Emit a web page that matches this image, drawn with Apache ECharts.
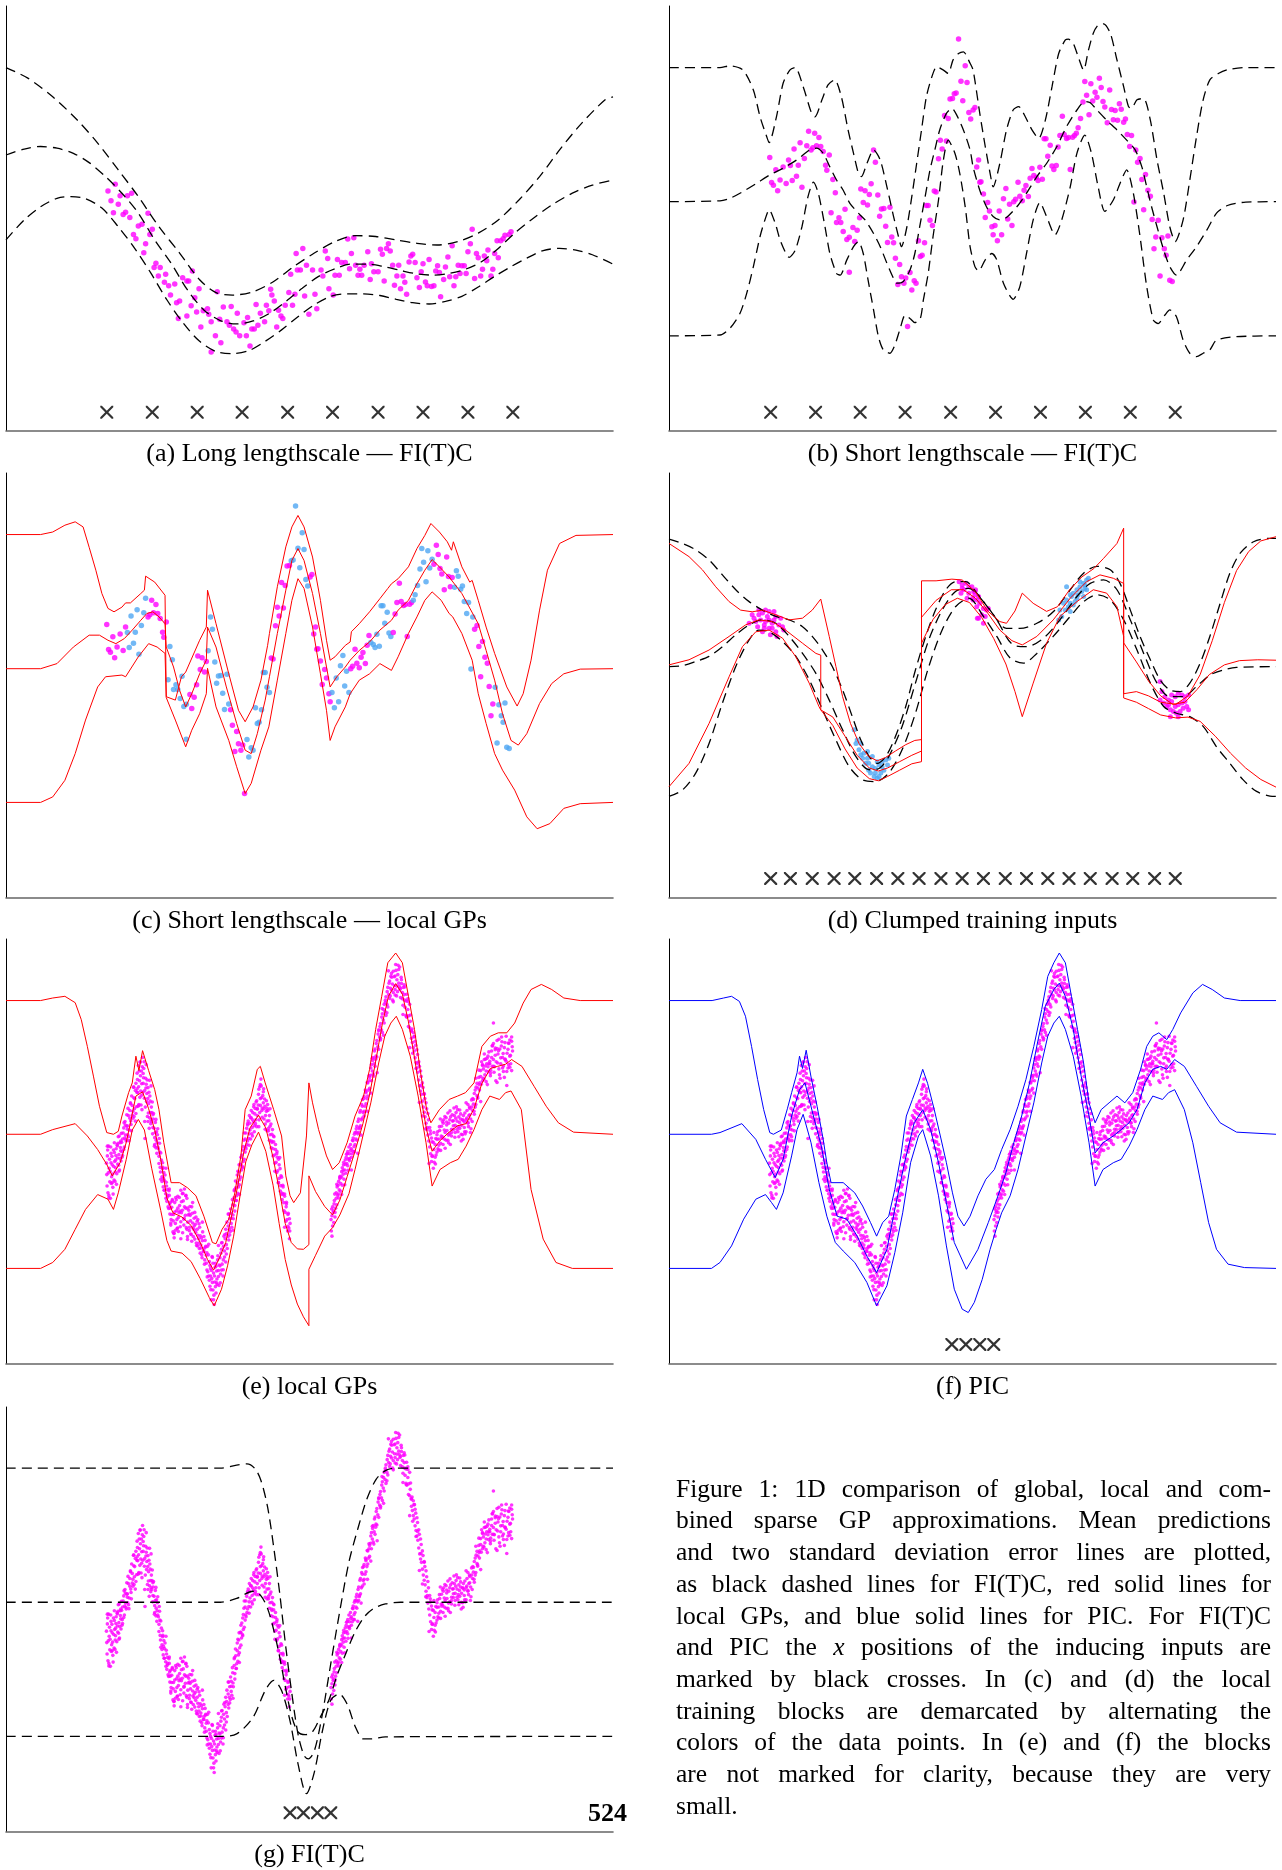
<!DOCTYPE html>
<html>
<head>
<meta charset="utf-8">
<script src="https://cdn.jsdelivr.net/npm/echarts/dist/echarts.min.js"></script>
<style>
  html, body { margin: 0; padding: 0; background: #fff; }
  #chart { width: 1282px; height: 1870px; }
</style>
</head>
<body>
<div id="chart"></div>
<script>
// x: position along the input axis (0-100), y: output value (0-100), same scale for every panel

// (a) long lengthscale, FI(T)C
const aUpper = [[0,85.5],[3.6,83.0],[7.7,78.6],[11.7,73.2],[15.1,67.7],[18.5,61.4],[21.8,55.1],[25.2,48.0],[28.6,41.8],[31.9,35.5],[34.6,32.5],[37.3,31.9],[40.7,32.7],[44.1,35.1],[47.4,38.6],[50.8,41.8],[54.2,44.5],[57.5,45.9],[60.9,45.7],[64.3,44.9],[67.7,44.1],[71.0,43.7],[74.4,44.5],[77.8,46.5],[81.1,49.6],[84.5,54.3],[87.9,59.8],[91.2,66.1],[94.6,72.0],[98.7,77.9],[100,78.6]];
const aMean = [[0,64.9],[3.0,66.3],[5.7,66.9],[8.4,66.5],[11.1,65.3],[13.7,63.1],[16.4,59.8],[19.1,55.9],[21.8,51.2],[24.5,44.9],[27.2,39.4],[29.9,33.1],[32.6,28.4],[35.3,25.9],[38.0,25.1],[40.7,25.8],[43.4,27.6],[46.1,30.4],[48.8,33.5],[51.5,36.3],[54.2,38.1],[56.9,39.2],[59.6,39.2],[62.3,38.6],[65.0,37.7],[67.7,36.9],[70.4,36.6],[73.0,37.0],[75.7,38.0],[78.4,39.8],[81.1,42.9],[83.8,46.5],[86.5,49.6],[89.9,53.1],[93.3,55.9],[96.6,57.8],[100,59.0]];
const aLower = [[0,44.9],[3.0,49.6],[5.7,52.7],[8.4,54.7],[10.7,55.1],[13.1,54.6],[15.8,52.4],[18.5,48.0],[21.2,42.9],[23.9,37.0],[26.5,30.8],[29.2,25.3],[31.9,21.0],[34.6,18.6],[37.3,18.1],[40.0,18.8],[42.7,21.0],[45.4,23.7],[48.1,26.8],[50.8,29.6],[53.5,31.6],[56.2,32.2],[58.9,32.2],[61.6,31.8],[64.3,30.9],[67.0,30.1],[69.7,29.8],[72.4,30.4],[75.1,31.6],[77.8,33.8],[80.5,36.3],[83.2,38.6],[85.8,40.6],[88.5,42.4],[91.2,42.9],[93.9,42.5],[96.6,41.4],[100,39.2]];
const aPoints = [[16.8,56.4],[18.0,58.0],[17.3,54.1],[18.8,55.3],[18.5,53.3],[20.0,55.3],[20.7,55.9],[17.7,51.3],[19.3,50.9],[19.7,51.4],[20.4,50.2],[23.4,51.2],[21.8,48.2],[22.4,48.6],[24.1,47.4],[21.0,46.2],[21.4,45.2],[23.7,46.2],[23.0,44.0],[22.7,41.9],[24.7,39.4],[24.4,38.4],[25.4,38.4],[26.3,36.8],[25.1,36.4],[26.1,34.9],[26.8,34.1],[27.8,34.5],[27.1,31.9],[29.1,36.0],[30.1,35.2],[30.7,37.6],[29.8,35.2],[28.6,30.5],[28.1,30.1],[31.8,33.4],[31.1,31.3],[30.5,29.4],[28.4,26.4],[29.8,27.0],[31.4,27.9],[32.5,28.2],[33.2,28.7],[33.4,27.4],[32.1,24.4],[33.8,25.6],[34.8,32.7],[35.2,26.2],[34.5,22.3],[35.4,20.7],[33.8,18.5],[35.8,29.1],[37.1,29.2],[36.4,25.6],[36.8,24.8],[37.5,23.9],[38.1,27.6],[37.9,23.2],[38.5,22.3],[39.2,25.4],[39.8,26.6],[39.6,22.3],[40.5,23.9],[40.9,23.9],[40.2,19.9],[41.2,29.7],[41.9,27.6],[42.6,25.6],[41.5,24.8],[42.9,29.5],[43.6,33.3],[43.8,31.9],[44.2,30.5],[43.3,28.2],[44.6,24.4],[44.9,28.3],[45.3,27.0],[45.6,26.4],[46.0,29.5],[46.6,32.5],[47.2,29.5],[46.9,36.8],[47.6,32.1],[47.8,41.7],[48.9,42.9],[48.0,37.8],[48.5,37.8],[49.2,31.7],[49.5,38.9],[49.9,27.4],[50.5,37.8],[50.9,32.1],[51.2,28.7],[51.9,37.8],[52.6,42.3],[53.0,40.5],[53.2,33.4],[52.2,36.4],[53.9,31.9],[54.6,40.3],[54.2,36.6],[54.9,36.6],[55.3,39.6],[55.9,39.6],[56.3,45.1],[56.6,38.1],[56.9,41.7],[57.3,45.4],[57.6,38.9],[58.0,36.6],[58.3,38.0],[58.6,36.6],[59.0,38.9],[59.6,42.1],[60.2,39.3],[60.0,35.6],[60.6,37.4],[61.3,37.4],[61.7,42.7],[62.0,41.5],[62.7,42.9],[63.0,44.0],[62.3,35.2],[63.3,42.3],[63.7,38.9],[64.0,34.2],[64.4,36.4],[64.7,38.9],[65.0,33.4],[65.4,36.4],[65.7,34.9],[66.0,32.1],[66.7,41.1],[66.4,39.7],[67.0,41.5],[67.4,39.6],[67.7,36.0],[68.1,33.7],[68.4,37.4],[68.7,39.3],[69.1,35.0],[69.4,34.1],[69.7,40.3],[70.1,33.9],[70.5,34.1],[70.8,37.6],[71.1,38.8],[71.4,37.2],[71.6,31.5],[72.1,35.6],[72.4,38.5],[72.8,40.9],[73.1,36.2],[73.5,43.5],[73.8,34.1],[74.1,36.2],[74.5,38.9],[74.8,37.0],[75.1,38.8],[75.5,38.8],[75.8,37.0],[76.1,42.1],[76.5,44.0],[76.8,47.4],[77.2,35.8],[77.5,41.7],[77.8,40.7],[78.2,36.4],[78.5,38.0],[78.8,41.1],[79.2,40.0],[79.4,42.5],[79.9,36.4],[80.2,38.0],[80.5,41.7],[80.9,44.7],[81.1,40.7],[81.5,44.7],[81.9,45.2],[82.2,46.0],[82.9,46.2],[83.2,46.8]];
const aCrosses = [[16.6,4.3],[24.1,4.3],[31.5,4.3],[38.9,4.3],[46.4,4.3],[53.8,4.3],[61.3,4.3],[68.7,4.3],[76.1,4.3],[83.5,4.3]];

// (b) short lengthscale, FI(T)C ; the same data are reused in (c)
const bUpper = [[0,85.5],[8.4,85.5],[10.05,85.9],[12.2,84.9],[13.9,80.2],[15.0,73.9],[16.1,69.2],[16.5,67.8],[17.7,73.9],[18.8,81.8],[19.9,84.9],[20.8,85.5],[22.1,81.0],[23.5,74.7],[24.05,73.9],[25.2,77.9],[26.2,81.4],[27.3,82.6],[28.4,78.6],[29.5,70.8],[30.4,65.3],[31.2,60.6],[31.7,59.8],[32.6,62.9],[33.7,66.1],[34.8,63.7],[35.9,57.4],[37.0,50.4],[37.8,45.7],[38.3,43.3],[39.2,48.0],[40.0,55.1],[40.8,62.9],[41.6,70.8],[42.4,78.6],[43.3,83.3],[44.1,85.7],[45.2,84.9],[46.0,84.1],[46.8,87.3],[47.7,88.8],[48.5,89.2],[49.6,86.5],[50.1,84.9],[51.2,74.7],[52.1,66.9],[52.9,60.6],[53.4,57.4],[54.5,62.9],[55.6,70.8],[56.7,75.5],[57.6,76.3],[58.7,73.9],[59.8,70.8],[60.9,68.8],[62.0,73.1],[63.1,81.0],[64.2,88.8],[65.3,92.0],[65.8,92.2],[66.6,91.2],[67.4,88.1],[68.3,84.9],[69.1,89.6],[69.9,93.6],[70.7,95.5],[71.6,95.8],[72.7,93.6],[73.8,87.3],[74.9,81.0],[75.7,76.3],[76.2,75.9],[77.1,77.9],[78.2,78.2],[79.3,73.1],[80.4,63.7],[81.5,55.9],[82.5,48.0],[83.4,44.5],[84.7,49.6],[85.8,59.0],[86.9,69.2],[88.0,77.9],[89.1,82.6],[90.5,84.1],[92.0,85.0],[95.0,85.5],[100,85.5]];
const bMean = [[0,53.9],[8.4,54.1],[10.05,54.7],[12.2,56.3],[14.4,58.2],[16.6,60.2],[18.8,61.8],[21.0,63.7],[23.2,66.1],[24.3,66.5],[25.4,65.3],[26.5,62.1],[27.6,59.0],[28.7,56.6],[29.8,53.5],[31.2,51.2],[32.3,49.6],[33.7,46.4],[34.8,43.3],[35.9,39.4],[37.0,35.8],[37.5,34.7],[38.6,35.1],[39.7,37.8],[40.5,41.7],[41.3,48.0],[42.2,55.1],[43.0,61.4],[43.8,66.1],[44.6,70.8],[45.7,74.7],[46.6,75.9],[47.4,74.3],[48.5,70.8],[49.6,66.1],[50.1,62.1],[51.2,56.6],[52.3,52.7],[53.4,50.4],[54.5,49.6],[55.6,50.2],[57.3,52.7],[58.9,55.9],[60.6,59.8],[62.2,62.9],[63.9,66.9],[65.5,71.6],[67.2,75.5],[68.5,77.5],[69.4,77.2],[70.5,75.5],[72.1,73.1],[73.8,70.8],[75.4,68.4],[76.8,66.1],[77.9,62.1],[78.7,57.4],[79.5,52.7],[80.4,48.0],[81.5,42.5],[82.5,38.6],[83.6,36.6],[85.3,40.2],[86.9,43.3],[88.6,47.2],[90.2,51.2],[92.0,53.0],[95.0,53.8],[100,53.9]];
const bLower = [[0,22.3],[8.4,22.5],[10.05,24.1],[11.7,27.6],[12.8,32.3],[13.9,38.6],[15.0,45.7],[15.8,49.6],[16.5,52.0],[17.5,48.8],[18.3,44.9],[19.4,41.3],[19.8,40.8],[20.8,42.5],[21.9,48.0],[22.9,55.1],[23.8,58.5],[24.6,55.9],[25.7,48.0],[26.5,41.7],[27.6,37.0],[28.2,36.6],[29.3,40.2],[30.4,43.3],[31.2,44.5],[32.0,41.7],[32.8,35.4],[33.7,28.4],[34.5,22.1],[35.3,19.0],[36.4,18.2],[37.2,20.1],[38.1,24.1],[38.9,27.2],[39.7,26.4],[40.5,25.4],[41.4,26.4],[41.9,30.7],[42.7,37.0],[43.5,45.7],[44.4,54.3],[45.2,63.7],[46.0,68.4],[47.1,65.3],[47.9,60.6],[48.8,52.7],[49.6,43.3],[50.4,38.6],[51.0,37.6],[52.1,40.2],[53.2,41.7],[54.0,40.2],[55.1,34.7],[56.7,30.9],[57.8,33.9],[58.9,41.7],[60.0,49.6],[61.1,53.7],[62.2,50.4],[63.6,46.1],[64.7,49.6],[66.1,57.4],[67.2,65.3],[68.5,69.6],[69.6,65.3],[70.7,57.4],[71.8,51.6],[73.2,54.3],[74.3,58.2],[75.4,61.4],[76.5,55.9],[77.6,45.7],[78.7,33.9],[79.8,26.0],[80.6,25.2],[81.7,27.2],[82.5,28.4],[83.6,26.8],[84.7,21.3],[85.8,18.2],[86.9,17.4],[88.0,18.2],[89.1,19.0],[90.2,21.3],[93.5,22.1],[100,22.3]];
const bcPoints = [[16.6,64.3],[17.6,61.4],[16.9,58.4],[17.2,57.8],[17.9,56.5],[18.3,59.0],[18.8,62.1],[19.3,58.2],[19.7,63.7],[20.0,62.4],[20.3,58.9],[20.6,66.3],[21.0,59.9],[21.3,62.5],[21.6,67.8],[21.9,57.3],[22.3,64.1],[22.7,67.1],[23.0,70.5],[23.4,66.1],[24.0,70.0],[23.7,66.6],[24.3,67.1],[24.7,69.0],[25.0,66.9],[25.4,65.7],[25.8,62.5],[26.0,61.3],[26.4,64.9],[27.0,59.1],[27.4,56.0],[26.7,51.3],[27.6,49.0],[28.0,50.1],[28.3,49.0],[28.7,46.9],[29.0,52.1],[29.3,45.0],[29.7,45.5],[30.3,47.8],[30.6,44.5],[31.0,47.2],[29.7,37.3],[31.4,50.1],[31.6,56.9],[32.0,53.7],[32.3,56.5],[32.7,53.1],[33.0,55.6],[33.3,58.1],[33.7,66.1],[34.0,63.2],[34.4,55.5],[34.7,50.5],[35.0,52.2],[35.4,52.3],[35.7,48.1],[36.0,44.3],[36.4,52.6],[36.7,45.6],[37.0,44.2],[37.3,40.6],[37.7,34.4],[38.0,39.1],[38.3,36.2],[38.7,34.7],[39.0,35.9],[39.3,24.5],[39.7,37.2],[40.0,33.1],[40.4,35.3],[40.7,34.7],[41.1,44.7],[41.4,41.0],[41.7,41.3],[42.1,44.2],[42.4,53.0],[42.7,53.0],[43.0,49.5],[43.4,48.3],[43.7,56.4],[44.0,56.2],[44.4,64.0],[44.7,68.4],[45.0,66.3],[45.4,74.2],[45.7,68.2],[46.0,73.5],[46.3,78.1],[46.7,78.2],[47.0,79.3],[47.3,79.5],[47.7,92.2],[48.1,82.3],[48.4,77.7],[48.8,85.9],[49.1,82.0],[49.4,74.9],[49.7,73.4],[50.1,75.5],[50.4,76.1],[50.7,62.1],[51.0,63.7],[51.2,58.5],[51.4,58.6],[51.8,55.7],[52.5,53.7],[52.1,50.2],[52.8,51.7],[53.2,48.0],[53.7,48.3],[53.4,46.1],[54.1,44.7],[54.8,46.1],[54.4,51.7],[55.1,54.6],[55.5,57.0],[55.8,49.8],[56.1,53.3],[56.5,48.3],[56.8,53.9],[57.1,54.5],[57.5,58.5],[57.8,55.2],[58.2,54.1],[58.5,56.6],[58.8,57.7],[59.2,55.1],[59.5,59.4],[59.8,61.7],[60.1,60.1],[60.5,59.6],[60.8,58.9],[61.1,62.0],[61.5,59.2],[61.8,68.7],[62.1,68.7],[62.4,64.6],[62.8,67.2],[63.1,62.3],[63.4,61.5],[63.8,62.4],[64.1,66.8],[64.4,69.5],[64.8,74.0],[65.1,69.7],[65.5,68.8],[65.8,69.0],[66.1,61.5],[66.5,69.1],[66.8,69.5],[67.1,70.0],[67.4,71.3],[67.8,73.5],[68.2,77.4],[68.5,82.2],[68.8,79.0],[69.2,74.4],[69.5,81.7],[69.8,77.6],[70.2,79.7],[70.5,78.5],[70.9,83.0],[71.2,80.8],[71.5,77.5],[71.8,76.2],[72.2,72.5],[72.6,80.2],[72.9,75.6],[73.2,73.2],[73.5,75.4],[73.9,73.1],[74.2,77.0],[74.5,75.7],[74.9,72.6],[75.2,73.4],[75.5,69.7],[75.9,66.9],[76.2,69.5],[76.6,53.8],[76.9,66.1],[77.2,63.2],[77.6,64.1],[77.9,59.1],[78.2,52.0],[78.5,60.3],[78.9,56.6],[79.3,55.2],[79.6,49.7],[79.9,42.8],[80.2,45.6],[80.6,49.5],[80.9,36.4],[81.2,45.4],[81.6,42.8],[81.9,41.3],[82.2,45.8],[82.5,35.4],[82.9,35.1]];
const bCrosses = [[16.75,4.3],[24.15,4.3],[31.5,4.3],[38.9,4.3],[46.4,4.3],[53.8,4.3],[61.2,4.3],[68.6,4.3],[76.0,4.3],[83.4,4.3]];

// (c) short lengthscale, local GPs
const cBlockEdges = [19.85, 23.2, 26.6, 30.0, 33.0, 36.7, 39.65, 43.45, 46.9, 50.05, 53.4, 56.75, 60.0, 63.6, 66.85, 70.25, 73.65, 77.05, 80.35];
const cUpper = [[0,85.5],[5.7,85.5],[7.7,86.1],[9.7,87.7],[11.4,88.5],[12.7,87.3],[13.7,82.5],[14.8,77.1],[15.8,71.6],[16.8,68.1],[17.8,67.3],[19.1,68.4],[19.7,69.4],[20.5,69.4],[22.2,71.6],[22.8,72.4],[23.0,75.7],[24.5,74.3],[26.2,71.2],[26.4,47.3],[27.9,46.5],[28.9,52.0],[29.6,53.1],[31.9,60.6],[33.0,63.7],[33.2,72.4],[34.6,64.5],[36.7,52.7],[38.3,44.1],[39.4,41.4],[40.7,44.9],[42.0,51.2],[43.1,59.4],[43.4,62.2],[44.7,73.2],[46.1,82.6],[47.1,87.3],[48.1,90.0],[49.1,87.3],[50.5,80.2],[51.8,70.0],[52.8,60.6],[53.4,55.9],[54.2,56.7],[55.9,59.4],[56.7,60.2],[56.9,62.6],[58.2,64.5],[59.9,67.3],[61.6,70.4],[62.9,72.8],[63.5,73.9],[64.6,75.1],[66.3,77.9],[67.7,82.2],[69.0,85.3],[70.0,88.1],[71.4,86.1],[72.7,83.8],[73.4,81.8],[73.7,83.8],[75.1,77.9],[76.4,74.3],[76.8,74.7],[77.8,70.0],[79.1,63.7],[80.5,57.5],[82.5,49.6],[84.2,45.1],[85.2,48.0],[86.5,55.9],[87.9,67.7],[89.2,77.1],[91.2,83.4],[93.9,85.3],[100,85.5]];
const cMean = [[0,53.9],[5.7,53.9],[8.4,55.1],[11.1,59.0],[13.7,61.8],[15.4,61.8],[16.8,60.6],[18.1,59.8],[19.5,61.0],[20.8,63.0],[22.2,65.3],[23.2,66.9],[24.2,67.3],[25.2,66.1],[26.2,64.5],[26.4,59.0],[27.6,54.3],[28.6,48.8],[29.6,44.9],[30.6,48.0],[31.9,52.7],[33.0,55.9],[33.2,63.7],[34.6,59.0],[36.3,49.6],[38.0,41.0],[39.4,34.7],[40.4,33.9],[41.4,38.6],[42.7,46.5],[43.4,52.0],[44.7,62.2],[46.1,72.4],[47.1,79.4],[48.1,82.2],[49.1,79.4],[50.5,71.6],[51.8,62.2],[52.8,54.3],[53.4,49.6],[54.5,52.0],[55.9,54.3],[56.7,55.9],[58.2,58.2],[59.9,60.2],[61.6,63.0],[63.5,65.3],[64.6,67.7],[66.3,70.0],[67.7,73.9],[69.0,77.1],[70.2,79.6],[71.4,77.9],[73.0,75.5],[75.1,71.6],[77.8,64.5],[79.1,58.2],[80.5,51.2],[81.8,43.3],[83.2,37.0],[84.4,35.9],[85.8,38.6],[87.9,45.7],[89.9,50.4],[91.9,52.7],[94.6,53.8],[100,53.9]];
const cLower = [[0,22.4],[5.7,22.4],[7.7,23.7],[9.7,27.6],[11.4,33.9],[13.1,41.8],[15.1,49.6],[16.4,52.0],[19.1,52.4],[19.7,52.0],[21.8,56.7],[23.5,59.8],[24.9,59.0],[26.2,57.5],[26.4,47.1],[27.9,41.8],[29.6,35.5],[30.6,39.4],[31.9,43.3],[33.0,48.0],[33.2,54.0],[34.6,44.9],[36.7,37.0],[38.0,30.8],[39.4,24.5],[40.4,26.9],[42.0,34.7],[43.3,40.2],[44.7,51.2],[46.1,62.2],[47.1,70.0],[48.1,75.1],[49.1,72.8],[50.5,63.7],[51.8,52.7],[52.8,44.1],[53.4,37.0],[54.2,40.2],[55.9,44.9],[56.7,48.0],[58.2,51.2],[59.9,52.7],[61.6,55.1],[63.5,53.5],[64.6,56.7],[66.3,62.2],[67.7,66.1],[69.0,70.0],[70.2,72.0],[71.7,70.0],[73.0,66.9],[73.6,66.1],[75.1,62.2],[76.8,55.9],[77.8,48.0],[79.1,41.0],[80.5,33.9],[81.8,30.0],[83.8,25.3],[85.8,19.0],[87.5,16.2],[89.6,17.4],[91.9,21.0],[94.6,22.1],[100,22.4]];

// (d) clumped training inputs
const dDashUpper = [[0,84.4],[2.2,83.4],[4.4,81.9],[6.6,79.5],[8.8,76.0],[11.0,72.5],[13.2,69.7],[15.4,67.7],[17.6,66.2],[19.8,65.4],[22.0,63.8],[23.6,61.5],[25.3,58.3],[26.9,54.4],[28.6,48.9],[30.2,42.6],[31.6,37.1],[33.0,33.2],[34.3,31.6],[35.7,33.2],[37.3,37.9],[39.0,45.0],[40.6,53.6],[42.3,61.5],[43.9,67.7],[45.6,72.5],[47.2,74.4],[48.9,74.4],[50.7,71.7],[52.9,67.7],[55.6,63.4],[57.8,63.4],[60.6,64.6],[63.3,67.3],[66.1,72.5],[68.3,76.4],[70.5,78.0],[72.7,77.2],[74.3,74.0],[76.0,67.7],[77.6,61.5],[79.3,56.0],[80.9,51.3],[82.5,48.9],[84.2,48.5],[85.8,50.5],[87.5,55.2],[89.1,61.5],[90.8,69.3],[92.4,76.4],[94.1,81.1],[96.3,83.8],[99.0,84.6],[100,84.6]];
const dDashMean = [[0,54.4],[2.2,54.6],[4.4,55.6],[6.6,56.8],[8.8,59.1],[11.0,61.9],[13.2,64.2],[15.4,65.4],[17.6,64.6],[19.8,61.5],[22.0,57.5],[24.2,52.8],[26.4,46.5],[28.6,39.5],[30.8,33.2],[33.0,30.1],[34.6,30.4],[36.2,33.2],[38.4,40.3],[40.6,50.5],[42.8,60.7],[45.0,67.7],[47.2,72.1],[49.4,72.8],[51.8,69.7],[54.0,65.4],[56.7,59.5],[58.9,59.1],[61.7,61.1],[64.4,65.4],[67.2,70.9],[69.4,74.0],[71.6,74.8],[73.8,72.5],[76.0,65.4],[78.2,57.5],[80.4,50.5],[82.5,47.3],[84.7,47.3],[86.9,49.7],[89.1,52.4],[91.3,53.6],[93.5,54.2],[100,54.4]];
const dDashLower = [[0,23.8],[2.2,25.3],[4.4,29.3],[6.6,36.3],[8.8,45.8],[11.0,54.4],[13.2,60.7],[14.8,63.0],[16.5,62.6],[18.7,60.3],[20.9,56.8],[23.1,51.3],[25.3,44.2],[27.5,37.1],[29.7,30.8],[31.9,27.7],[34.0,27.3],[36.2,29.3],[38.4,34.8],[40.6,43.4],[42.8,54.4],[45.0,63.0],[47.2,68.5],[49.4,70.5],[51.8,66.2],[54.0,61.5],[56.2,56.4],[58.4,55.2],[60.6,57.5],[63.3,61.5],[66.1,66.2],[68.3,69.7],[70.5,71.3],[72.7,70.1],[74.9,65.4],[77.1,58.3],[79.3,50.5],[81.5,45.0],[83.6,43.4],[85.8,42.6],[88.0,40.3],[90.2,35.5],[92.4,31.6],[94.6,27.7],[96.8,25.0],[99.0,23.9],[100,23.8]];
const dRedUpper = [[0,83.4],[3.3,80.3],[5.5,77.2],[7.7,73.2],[9.9,69.7],[11.8,67.7],[13.7,67.3],[15.4,67.7],[17.6,66.6],[19.8,65.4],[22.0,65.8],[23.6,67.7],[25.0,70.3],[26.4,61.5],[27.5,54.4],[28.6,47.3],[29.9,41.0],[31.3,36.3],[32.9,33.2],[34.3,32.2],[35.7,33.0],[37.3,34.5],[39.0,36.0],[40.5,37.0],[41.6,37.2],[41.6,74.6],[44.0,74.6],[46.6,75.0],[48.3,74.8],[50.5,72.0],[52.5,67.5],[54.5,65.0],[55.6,64.6],[57.0,67.5],[58.2,71.7],[60.0,69.3],[62.2,67.4],[64.0,68.5],[66.0,72.5],[68.0,75.5],[70.0,77.5],[71.6,79.9],[73.8,83.4],[74.9,87.0],[74.9,48.0],[77.0,48.5],[79.0,47.5],[81.0,46.0],[83.5,45.5],[85.5,47.5],[87.5,52.5],[89.5,60.5],[91.5,69.5],[93.5,77.0],[95.5,81.5],[97.5,84.0],[100,85.0]];
const dRedMean = [[0,54.8],[3.3,56.0],[6.6,58.3],[9.9,61.5],[12.6,64.2],[14.8,65.4],[17.0,65.0],[19.2,63.0],[22.0,59.9],[24.2,57.5],[25.0,57.1],[25.0,44.2],[27.0,42.5],[29.0,38.0],[31.0,33.5],[33.0,30.5],[34.5,29.8],[36.0,30.5],[38.0,32.0],[40.0,33.5],[41.6,34.5],[41.6,66.0],[44.0,70.0],[46.5,72.5],[48.5,72.5],[50.5,70.5],[52.5,67.0],[54.5,63.0],[56.5,60.5],[58.2,59.5],[58.2,59.1],[60.6,61.5],[63.3,65.4],[66.1,70.5],[68.8,74.4],[71.0,76.0],[73.2,75.2],[74.9,74.0],[74.9,60.0],[77.0,55.5],[79.0,51.0],[81.0,47.5],[83.0,45.5],[85.0,46.0],[87.0,49.0],[89.0,52.5],[91.5,54.8],[94.0,55.8],[97.0,56.0],[100,55.9]];
const dRedLower = [[0,26.1],[3.3,31.6],[6.6,41.0],[9.9,52.0],[12.1,59.1],[14.3,62.6],[16.5,63.0],[18.7,61.1],[20.9,56.7],[23.1,50.5],[24.7,45.0],[25.0,44.2],[27.0,40.5],[29.0,35.0],[31.0,30.5],[33.0,28.0],[34.5,27.5],[36.0,28.5],[38.0,30.0],[40.0,31.5],[41.6,32.0],[41.6,59.9],[43.5,65.5],[45.5,69.0],[47.5,70.5],[49.5,69.5],[51.5,66.0],[53.5,61.0],[55.5,55.0],[57.0,48.5],[58.2,42.6],[60.0,50.5],[62.2,59.9],[64.4,66.2],[67.2,69.7],[69.9,72.5],[72.1,71.7],[73.8,68.5],[74.9,61.5],[74.9,47.0],[77.0,46.0],[79.0,44.5],[81.0,43.0],[83.5,42.3],[85.5,42.5],[87.5,41.5],[90.0,38.0],[92.5,34.0],[95.0,30.5],[97.5,27.8],[100,26.0]];
const dPointsMagenta = [[15.9,67.7],[16.5,67.4],[14.8,66.6],[14.0,65.8],[15.1,65.4],[17.6,66.2],[18.4,65.8],[17.0,64.6],[15.7,64.2],[14.6,63.8],[13.2,64.6],[16.5,63.4],[18.7,63.8],[17.6,62.6],[15.4,62.6],[16.7,61.9],[17.8,61.5],[14.3,65.0],[16.2,66.2],[17.3,65.4],[15.4,67.0],[18.1,64.2],[18.9,63.0],[13.7,66.6],[14.8,67.7],[15.9,65.0],[17.0,63.4],[15.7,63.4],[16.5,65.4],[17.3,67.4],
  [47.8,74.4],[48.3,73.6],[48.9,74.0],[49.4,73.2],[48.6,72.5],[49.4,71.7],[50.2,72.1],[48.1,71.7],[50.0,70.5],[50.8,70.1],[50.8,65.8],[49.1,70.5],[48.3,72.8],[50.5,72.5],[49.9,73.2],[50.4,72.1],[51.0,70.9],[50.1,70.1],[51.2,69.3],[51.8,68.1],[50.7,68.5],[52.3,67.7],[51.5,66.6],[52.1,66.2],[52.6,68.1],[51.0,65.8],[51.8,64.6],[50.4,71.3],
  [80.9,50.9],[81.2,48.5],[81.7,47.3],[82.3,46.5],[82.8,47.7],[83.4,47.3],[83.9,48.1],[84.5,47.7],[85.0,47.3],[85.6,47.7],[81.5,45.8],[82.0,45.0],[82.6,44.2],[83.1,43.8],[83.6,43.4],[84.2,43.8],[84.7,44.6],[85.3,45.0],[82.8,46.2],[83.9,45.4],[82.3,45.4],[83.4,45.0],[84.5,45.8],[82.6,42.6],[83.9,42.6],[85.6,44.2],[80.9,46.5],[85.0,46.2]];
const dPointsBlue = [[30.5,39.5],[31.0,37.1],[31.6,36.3],[31.3,34.8],[32.1,34.0],[32.7,32.8],[31.9,32.8],[32.9,31.6],[33.5,30.8],[34.0,30.4],[34.6,31.2],[35.1,32.0],[35.7,32.4],[33.2,29.3],[33.8,28.5],[34.3,28.1],[34.9,29.3],[35.4,30.0],[32.4,31.6],[31.6,33.6],[30.8,36.3],[33.5,33.2],[34.3,32.0],[35.1,30.8],[36.0,31.2],[32.9,30.0],[34.0,29.3],[34.6,28.5],[36.2,32.8],[32.7,34.4],
  [64.4,67.7],[65.0,69.3],[65.5,70.1],[65.8,68.5],[66.3,70.9],[66.6,71.7],[67.2,72.5],[67.7,73.2],[68.3,74.0],[68.8,74.8],[69.1,75.2],[66.1,69.3],[66.9,69.7],[67.4,71.3],[68.0,72.1],[68.5,72.8],[65.3,67.7],[64.7,66.2],[66.1,67.4],[67.2,70.5],[68.3,70.9],[67.7,74.4],[65.5,73.2],[66.6,68.9],[64.2,65.4],[68.5,73.6],[68.8,72.5],[66.1,71.3]];
const dCrosses = [[16.75,4.5],[20.0,4.5],[23.6,4.5],[27.2,4.5],[30.6,4.5],[34.2,4.5],[37.7,4.5],[41.2,4.5],[44.8,4.5],[48.3,4.5],[51.8,4.5],[55.4,4.5],[58.9,4.5],[62.4,4.5],[65.9,4.5],[69.4,4.5],[73.0,4.5],[76.4,4.5],[80.0,4.5],[83.4,4.5]];

// (e), (f), (g) share one large data set (read in three passes)
const efgPointsA = [[16.6,44.5],[16.7,48.9],[16.8,40.2],[16.9,51.2],[17.0,46.0],[17.1,42.8],[17.2,38.9],[17.3,49.5],[17.4,44.0],[17.5,46.8],[17.6,41.5],[17.7,50.3],[17.8,43.2],[17.9,47.6],[18.0,45.1],[18.1,49.0],[18.2,42.2],[18.3,51.5],[18.4,47.0],[18.5,53.4],[18.6,49.2],[18.7,45.6],[18.8,52.0],[18.9,50.1],[19.0,54.2],
  [19.1,48.6],[19.2,52.9],[19.4,55.5],[19.5,51.0],[19.6,57.0],[19.7,53.8],[19.9,58.6],[20.0,55.2],[20.1,60.1],[20.2,53.4],[20.4,57.8],[20.5,61.2],[20.6,56.3],[20.7,63.0],[20.9,59.4],[21.0,65.1],[21.1,58.2],[21.2,62.4],[21.4,66.0],[21.5,60.5],
  [21.6,68.4],[21.7,63.8],[21.8,70.2],[21.9,61.0],[22.0,66.6],[22.1,71.0],[22.2,64.2],[22.3,68.9],[22.4,59.8],[22.5,72.1],[22.6,66.0],[22.7,69.5],[22.8,62.5],[22.9,53.0],[23.0,67.2],[23.1,70.4],[23.2,63.6],[23.3,58.2],[23.4,65.0],[23.5,61.2],[23.6,55.4],[23.7,63.0],[23.8,59.1],[23.9,65.4],[24.0,57.0],
  [24.1,61.6],[24.2,55.6],[24.3,58.9],[24.5,53.2],[24.6,56.8],[24.7,50.8],[24.8,54.6],[24.9,52.0],[25.0,55.3],[25.2,48.8],[25.3,51.9],[25.4,46.2],[25.5,49.6],[25.7,44.0],[25.8,47.3],[25.9,41.6],[26.0,45.0],[26.1,43.1],[26.3,40.0],[26.4,42.7],[26.5,38.2],[26.6,41.0],[26.8,36.5],[26.9,39.6],[27.0,35.2],
  [27.1,38.0],[27.2,33.9],[27.3,36.8],[27.5,31.0],[27.6,35.1],[27.7,29.6],[27.8,37.9],[27.9,33.0],[28.1,36.0],[28.2,31.8],[28.3,39.4],[28.4,34.4],[28.6,37.2],[28.7,32.2],[28.8,40.8],[28.9,35.5],[29.1,30.8],[29.2,38.3],[29.3,34.0],[29.4,41.1],[29.6,36.6],[29.7,32.0],[29.8,38.9],[29.9,29.9],[30.0,35.0],
  [30.2,31.3],[30.3,37.0],[30.4,33.6],[30.6,28.8],[30.7,35.4],[30.8,31.9],[31.0,34.2],[31.1,29.3],[31.2,32.8],[31.4,27.8],[31.5,33.5],[31.6,30.2],[31.8,28.4],[31.9,32.1],[32.0,26.0],[32.2,29.6],[32.3,24.9],[32.4,31.0],[32.6,27.0],[32.7,23.4],[32.8,29.0],[33.0,25.5],[33.1,22.0],[33.2,27.6],[33.4,20.6],
  [33.5,24.0],[33.6,18.2],[33.7,22.4],[33.8,15.0],[33.9,20.0],[34.0,25.0],[34.1,17.3],[34.2,21.3],[34.3,13.9],[34.4,19.2],[34.5,23.6],[34.6,16.6],[34.7,21.8],[34.8,18.6],[34.9,25.4],[35.0,20.5],[35.1,23.2],[35.3,19.0],[35.4,26.0],[35.5,22.0],[35.6,28.5],[35.8,24.4],[35.9,30.0],[36.0,26.5],[36.2,31.6],
  [36.3,28.0],[36.4,33.3],[36.6,29.9],[36.7,35.2],[36.8,31.6],[37.0,36.4],[37.1,33.0],[37.3,38.6],[37.4,35.0],[37.6,40.7],[37.7,37.2],[37.8,43.0],[38.0,39.5],[38.1,44.4],[38.3,41.6],[38.4,46.8],[38.5,43.3],[38.7,48.6],[38.8,45.6],[39.0,50.3],[39.1,47.6],[39.2,52.6],[39.4,49.8],[39.5,54.3],[39.7,51.6],
  [39.8,56.2],[40.0,53.0],[40.1,58.4],[40.2,55.0],[40.4,59.6],[40.5,54.1],[40.6,57.4],[40.8,60.5],[40.9,56.0],[41.0,58.8],[41.2,61.6],[41.3,55.8],[41.4,59.9],[41.6,63.4],[41.7,57.4],[41.8,65.2],[41.9,60.8],[42.0,67.0],[42.1,62.6],[42.2,58.0],[42.4,64.0],[42.5,60.0],
  [42.6,62.3],[42.7,56.4],[42.9,59.4],[43.0,54.8],[43.1,61.0],[43.3,57.2],[43.4,52.6],[43.5,55.9],[43.7,50.8],[43.8,54.0],[44.0,48.9],[44.1,52.2],[44.3,47.2],[44.4,50.4],[44.6,45.0],[44.7,48.6],[44.9,42.6],[45.0,46.8],[45.2,40.6],[45.3,44.2],[45.5,38.6],[45.6,42.0],[45.8,36.0],[45.9,39.4],[46.1,33.5],[46.2,37.6],[46.4,31.2],[46.5,35.4],[46.7,29.4],[46.8,33.0],
  [53.6,31.2],[53.7,34.8],[53.8,36.9],[54.0,33.2],[54.1,38.4],[54.2,35.6],[54.4,40.2],[54.5,37.4],[54.7,42.0],[54.8,39.0],[55.0,43.6],[55.1,40.6],[55.3,45.2],[55.4,42.0],[55.6,46.8],[55.7,43.4],[55.9,48.0],[56.0,44.8],[56.2,49.4],[56.3,46.6],[56.5,51.0],[56.6,47.8],[56.8,50.2],[56.9,48.6],[57.1,52.6],
  [57.2,50.0],[57.4,54.0],[57.5,51.6],[57.7,55.3],[57.8,52.6],[58.0,57.0],[58.1,54.4],[58.3,59.2],[58.4,56.0],[58.6,61.0],[58.7,57.8],[58.9,62.4],[59.0,59.4],[59.2,64.4],[59.3,61.2],[59.5,66.2],[59.6,63.0],[59.8,67.8],[59.9,64.8],[60.1,69.6],
  [60.2,66.6],[60.4,71.4],[60.5,68.2],[60.7,73.6],[60.8,70.0],[61.0,75.4],[61.1,72.2],[61.3,77.6],[61.4,74.0],[61.6,79.4],[61.7,76.2],[61.9,81.6],[62.0,78.0],[62.2,83.4],[62.3,80.2],[62.5,85.6],[62.6,82.0],[62.8,87.6],[62.9,84.0],[63.1,89.6],
  [63.2,86.0],[63.4,91.2],[63.5,88.0],[63.7,85.6],[63.8,92.4],[64.0,89.0],[64.1,86.8],[64.2,94.0],[64.4,90.4],[64.5,87.6],[64.7,92.8],[64.8,88.8],[65.0,86.2],[65.1,91.0],[65.3,87.4],[65.4,84.4],[65.6,89.2],[65.7,85.6],[65.9,82.0],[66.0,87.0],[66.2,83.4],[66.3,79.4],[66.5,84.6],
  [66.6,80.6],[66.8,76.6],[66.9,78.8],[67.1,74.4],[67.2,77.0],[67.4,72.0],[67.5,75.0],[67.7,69.6],[67.8,72.8],[68.0,66.8],[68.1,70.0],[68.3,64.2],[68.4,67.6],[68.6,61.8],[68.7,65.0],[68.9,59.2],[69.0,62.4],[69.2,56.6],[69.3,60.0],[69.5,53.8],[69.6,57.4],[69.8,51.0],[69.9,54.8],[70.1,47.6],[70.2,52.2],
  [70.4,46.0],[70.5,50.4],[70.7,48.6],[70.8,53.0],[71.0,49.8],[71.1,54.6],[71.3,51.4],[71.4,55.8],[71.6,50.2],[71.7,53.6],[71.9,57.0],[72.0,51.6],[72.2,55.0],[72.3,58.2],[72.5,52.6],[72.6,56.2],[72.8,59.0],[72.9,53.8],[73.1,57.4],[73.2,51.6],[73.4,55.2],[73.5,58.6],[73.7,56.0],[73.8,60.2],[74.0,54.4],
  [74.1,57.8],[74.3,55.2],[74.4,59.8],[74.6,53.4],[74.7,56.8],[74.9,58.8],[75.0,54.0],[75.2,57.4],[75.3,52.8],[75.5,55.6],[75.6,59.0],[75.8,54.6],[75.9,57.8],[76.1,61.0],[76.2,55.8],[76.4,58.6],[76.5,54.4],[76.7,60.4],[76.8,57.0],[77.0,62.2],[77.1,59.4],[77.3,64.4],[77.4,61.0],[77.6,66.0],[77.7,62.8],
  [77.9,67.4],[78.0,64.4],[78.2,69.0],[78.3,65.8],[78.5,70.4],[78.6,67.2],[78.8,71.6],[78.9,68.0],[79.1,66.4],[79.2,70.6],[79.4,72.4],[79.5,68.8],[79.7,71.2],[79.8,67.8],[80.0,73.6],[80.1,70.0],[80.3,75.4],[80.4,68.6],[80.6,72.6],[80.7,66.6],[80.9,74.2],[81.0,70.8],[81.2,76.4],[81.3,68.0],[81.5,72.0],[81.6,74.8],[81.8,69.6],[81.9,73.0],[82.1,67.4],[82.2,75.6],[82.4,71.2],[82.5,68.8],[82.7,74.0],[82.8,70.4],[83.0,76.2],[83.1,72.6],[83.3,69.0],[83.4,74.6],[80.3,80.2]];
const efgPointsB = [[16.55,47.2],[16.65,41.8],[16.75,50.3],[16.85,44.9],[16.95,39.6],[17.05,48.1],[17.15,45.3],[17.25,51.0],[17.35,42.4],[17.45,48.8],[17.55,44.6],[17.65,39.9],[17.75,46.4],[17.85,49.7],[17.95,42.9],[18.05,47.9],[18.15,50.6],[18.25,44.7],[18.35,48.4],[18.45,51.9],[18.55,46.7],[18.65,53.6],[18.75,48.3],[18.85,50.9],[18.95,47.7],
  [19.05,52.1],[19.15,49.9],[19.3,54.3],[19.4,50.4],[19.55,53.1],[19.65,56.2],[19.8,52.4],[19.9,55.9],[20.05,53.9],[20.15,58.4],[20.3,55.0],[20.4,59.6],[20.55,57.1],[20.65,54.8],[20.8,60.8],[20.9,57.8],[21.05,62.6],[21.15,60.0],[21.3,64.3],[21.4,58.9],
  [21.55,63.9],[21.65,66.9],[21.75,60.6],[21.85,65.2],[21.95,68.9],[22.05,62.7],[22.15,67.8],[22.25,60.9],[22.35,65.9],[22.45,69.9],[22.55,63.9],[22.65,67.3],[22.75,71.1],[22.85,64.3],[22.95,60.4],[23.05,64.9],[23.15,61.7],[23.25,66.8],[23.35,62.4],[23.45,59.0],[23.55,63.9],[23.65,57.9],[23.75,61.8],[23.85,56.5],[23.95,60.4],
  [24.05,59.1],[24.15,54.1],[24.25,57.6],[24.4,55.4],[24.5,51.6],[24.6,54.4],[24.75,52.6],[24.85,49.5],[24.95,53.9],[25.1,50.6],[25.2,47.1],[25.35,49.8],[25.45,45.1],[25.6,47.9],[25.7,42.9],[25.85,46.2],[25.95,43.6],[26.1,40.8],[26.2,44.4],[26.35,38.9],[26.45,41.8],[26.6,39.6],[26.7,36.9],[26.85,40.7],[26.95,37.6],
  [27.05,36.6],[27.15,32.6],[27.3,35.1],[27.4,38.6],[27.55,33.6],[27.65,30.6],[27.8,35.7],[27.9,31.4],[28.05,38.6],[28.15,33.9],[28.3,36.6],[28.4,31.1],[28.55,39.1],[28.65,35.9],[28.8,33.4],[28.9,38.1],[29.05,36.1],[29.15,40.1],[29.3,32.6],[29.4,36.9],[29.55,34.9],[29.65,39.6],[29.8,31.6],[29.9,36.6],[29.95,33.3],
  [30.1,36.1],[30.25,32.1],[30.35,34.9],[30.5,30.4],[30.6,36.9],[30.75,33.1],[30.85,29.9],[31.0,32.4],[31.1,35.6],[31.25,30.9],[31.35,28.4],[31.5,31.6],[31.6,33.9],[31.75,29.4],[31.85,27.1],[32.0,30.1],[32.1,27.9],[32.25,25.6],[32.35,28.9],[32.5,26.4],[32.6,29.9],[32.75,24.4],[32.85,27.4],[33.0,23.6],[33.1,26.1],
  [33.25,21.6],[33.35,25.6],[33.5,19.6],[33.6,23.1],[33.75,17.4],[33.85,21.9],[34.0,19.1],[34.1,23.6],[34.25,16.1],[34.35,20.6],[34.5,18.1],[34.6,22.9],[34.75,19.9],[34.85,24.4],[35.0,21.9],[35.1,18.4],[35.25,24.9],[35.35,21.1],[35.5,26.9],[35.6,23.4],[35.75,20.6],[35.85,27.6],[36.0,25.1],[36.1,29.4],[36.2,23.9],
  [36.35,30.6],[36.45,27.1],[36.6,32.4],[36.7,29.1],[36.85,34.1],[36.95,31.1],[37.1,35.4],[37.2,32.1],[37.35,37.4],[37.45,34.1],[37.6,39.1],[37.7,35.9],[37.85,41.4],[37.95,38.4],[38.1,42.6],[38.2,40.1],[38.35,45.1],[38.45,42.1],[38.6,46.9],[38.7,43.9],[38.85,49.1],[38.95,46.4],[39.1,51.1],[39.25,48.1],[39.4,52.9],
  [39.55,50.6],[39.65,55.4],[39.8,52.4],[39.9,57.1],[40.05,54.1],[40.15,56.6],[40.3,52.9],[40.4,57.9],[40.55,55.6],[40.65,59.1],[40.8,56.9],[40.9,54.6],[41.05,60.1],[41.15,57.4],[41.3,61.9],[41.4,58.4],[41.55,60.9],[41.65,64.6],[41.8,59.1],[41.9,62.4],[42.05,65.4],[42.15,59.6],[42.3,63.1],[42.4,61.4],[42.5,57.6],
  [42.65,60.6],[42.75,58.4],[42.9,61.9],[43.0,57.1],[43.15,59.6],[43.25,55.4],[43.4,58.4],[43.5,53.9],[43.65,56.4],[43.75,52.4],[43.9,55.1],[44.0,50.6],[44.15,53.4],[44.25,49.1],[44.4,51.6],[44.5,47.4],[44.65,49.9],[44.75,45.4],[44.9,48.1],[45.0,43.6],[45.15,45.9],[45.25,41.9],[45.4,43.9],[45.5,40.1],[45.65,41.6],[45.75,37.9],[45.9,39.9],[46.0,35.6],[46.15,36.9],[46.3,33.9],[46.45,35.1],[46.6,31.9],[46.75,31.2],
  [53.55,33.9],[53.65,36.4],[53.8,32.4],[53.9,35.6],[54.05,37.6],[54.15,39.9],[54.3,36.6],[54.4,38.9],[54.55,41.6],[54.65,39.6],[54.8,42.9],[54.9,40.9],[55.05,44.1],[55.15,42.4],[55.3,43.9],[55.4,46.1],[55.55,44.6],[55.65,47.4],[55.8,45.6],[55.9,46.9],[56.05,48.6],[56.15,47.1],[56.3,49.9],[56.4,48.1],[56.6,49.4],
  [56.75,51.6],[56.9,50.6],[57.05,49.4],[57.2,53.1],[57.35,51.1],[57.5,54.4],[57.65,52.9],[57.8,55.9],[57.95,54.1],[58.1,57.6],[58.25,55.6],[58.4,59.6],[58.55,57.4],[58.7,60.6],[58.85,59.1],[59.0,62.9],[59.15,60.6],[59.3,64.1],[59.45,62.4],[59.6,66.1],[59.75,64.4],[59.9,67.4],
  [60.05,67.9],[60.2,70.4],[60.35,68.9],[60.5,72.1],[60.65,70.6],[60.8,74.1],[60.95,72.4],[61.1,76.1],[61.25,74.6],[61.4,78.4],[61.55,76.9],[61.7,80.1],[61.85,78.6],[62.0,82.4],[62.15,80.9],[62.3,84.6],[62.45,82.9],[62.6,86.4],[62.75,84.6],[62.9,88.6],[63.05,86.9],
  [63.2,90.1],[63.35,88.4],[63.5,91.9],[63.65,89.4],[63.8,87.4],[63.95,91.1],[64.1,88.1],[64.25,92.6],[64.4,88.9],[64.55,91.6],[64.7,89.6],[64.85,93.4],[65.0,88.4],[65.15,90.4],[65.3,85.9],[65.45,88.6],[65.6,86.9],[65.75,83.9],[65.9,85.4],[66.05,81.6],[66.2,85.9],[66.35,81.9],
  [66.5,79.1],[66.65,82.1],[66.8,78.4],[66.95,75.6],[67.1,77.9],[67.25,73.6],[67.4,75.9],[67.55,70.9],[67.7,73.9],[67.85,68.6],[68.0,71.1],[68.15,65.4],[68.3,68.9],[68.45,63.4],[68.6,66.1],[68.75,60.4],[68.9,63.6],[69.05,58.1],[69.2,61.4],[69.35,55.1],[69.5,58.9],[69.65,52.4],[69.8,55.6],[69.95,49.4],[70.1,53.1],
  [70.25,48.9],[70.4,52.1],[70.55,47.4],[70.7,51.6],[70.85,49.1],[71.0,53.9],[71.15,50.6],[71.3,52.9],[71.45,54.9],[71.6,51.9],[71.75,55.9],[71.9,53.4],[72.05,56.6],[72.2,52.9],[72.35,54.4],[72.5,57.9],[72.65,54.9],[72.8,52.6],[72.95,56.6],[73.1,54.1],[73.25,58.1],[73.4,53.6],[73.55,57.1],[73.7,55.1],[73.85,58.4],
  [74.0,56.1],[74.15,59.1],[74.3,57.1],[74.45,54.6],[74.6,58.1],[74.75,55.4],[74.9,57.6],[75.05,56.1],[75.2,53.9],[75.35,58.4],[75.5,56.9],[75.65,54.1],[75.8,57.4],[75.95,59.6],[76.1,56.6],[76.25,58.4],[76.4,60.1],[76.55,57.6],[76.7,62.1],[76.85,59.6],[77.0,61.1],[77.15,63.6],[77.3,60.4],[77.45,65.1],[77.6,63.1],
  [77.75,64.9],[77.9,69.1],[78.05,66.1],[78.2,67.6],[78.35,71.1],[78.5,66.6],[78.65,69.4],[78.8,72.9],[78.95,70.1],[79.1,68.9],[79.25,71.9],[79.4,69.9],[79.55,73.4],[79.7,70.6],[79.85,69.1],[80.0,72.1],[80.15,74.9],[80.3,71.6],[80.45,69.9],[80.6,73.9],[80.75,71.1],[80.9,76.1],[81.05,72.9],[81.2,69.4],[81.35,74.1],[81.5,70.6],[81.65,76.9],[81.8,72.1],[81.95,70.1],[82.1,74.4],[82.25,71.6],[82.4,77.1],[82.55,73.1],[82.7,69.6],[82.85,75.4],[83.0,72.4],[83.15,70.6],[83.3,76.9],[83.45,73.6]];
const efgPointsC = [[16.7,51.2],[16.95,39.0],[17.3,47.3],[17.5,42.6],[17.85,52.0],[18.05,46.1],[18.35,51.3],[18.6,45.3],[18.9,52.4],[19.2,49.0],[19.45,56.7],[19.75,52.8],[20.0,56.0],[20.25,52.5],[20.5,61.4],[20.8,58.5],[21.05,65.1],[21.3,57.1],[21.6,64.7],[21.85,60.8],[22.1,71.0],[22.35,63.2],[22.6,68.3],[22.85,57.0],[23.1,65.8],[23.4,57.0],[23.65,66.7],[23.9,57.4],[24.2,58.6],[24.45,51.2],[24.7,57.5],[25.0,51.0],[25.25,53.0],[25.5,43.4],[25.8,45.9],[26.05,40.8],[26.35,46.0],[26.6,39.2],[26.9,41.1],
  [27.15,33.1],[27.4,38.3],[27.7,30.7],[27.95,39.1],[28.25,31.9],[28.5,35.5],[28.8,29.4],[29.05,40.0],[29.35,34.2],[29.6,39.5],[29.9,29.2],[30.2,35.2],[30.45,30.5],[30.75,37.9],[31.0,31.5],[31.3,34.5],[31.55,27.7],[31.8,32.9],[32.1,27.2],[32.35,33.3],[32.6,26.4],[32.9,27.6],[33.15,20.4],[33.4,28.1],[33.7,20.6],[33.95,25.2],[34.2,15.0],[34.45,22.7],[34.7,19.0],[35.0,27.8],[35.25,23.0],[35.5,28.4],[35.8,22.1],[36.05,30.4],[36.3,25.8],[36.6,35.2],[36.85,30.3],[37.1,34.2],[37.4,31.4],[37.65,41.0],[37.9,38.4],
  [38.2,45.3],[38.45,39.8],[38.7,46.9],[39.0,46.1],[39.25,54.3],[39.5,51.0],[39.8,56.5],[40.05,51.4],[40.3,57.9],[40.6,53.6],[40.85,61.0],[41.1,56.5],[41.4,60.1],[41.65,55.8],[41.9,65.7],[42.2,60.2],[42.45,64.7],[42.7,55.2],[43.0,60.1],[43.25,54.8],[43.5,60.0],[43.8,52.1],[44.05,53.6],[44.3,45.3],[44.6,49.4],[44.85,42.6],[45.1,48.5],[45.4,39.8],[45.65,39.9],[45.9,32.1],[46.2,38.0],[46.45,32.3],[46.7,34.1],
  [53.7,30.0],[53.95,36.0],[54.2,34.5],[54.5,42.2],[54.75,39.9],[55.0,43.9],[55.3,39.8],[55.55,45.5],[55.8,42.1],[56.1,49.3],[56.35,45.5],[56.6,48.3],[56.9,45.6],[57.15,52.5],[57.4,49.9],[57.7,54.5],[57.95,49.5],[58.2,55.3],[58.5,53.8],[58.75,62.2],[59.0,58.3],[59.3,63.8],[59.55,59.4],[59.8,66.6],[60.1,63.7],[60.35,71.9],[60.6,67.7],[60.9,71.7],[61.15,68.5],[61.4,78.6],[61.7,76.6],[61.95,83.6],[62.2,77.3],[62.5,85.1],[62.75,82.6],[63.0,92.5],[63.3,86.6],[63.55,91.0],[63.8,85.2],
  [64.1,91.3],[64.35,86.6],[64.6,93.8],[64.9,88.1],[65.15,89.5],[65.4,82.2],[65.7,88.7],[65.95,81.7],[66.2,85.3],[66.5,74.4],[66.75,78.3],[67.0,73.1],[67.3,77.0],[67.55,69.5],[67.8,70.7],[68.1,61.5],[68.35,65.5],[68.6,58.3],[68.9,63.4],[69.15,55.3],[69.4,55.6],[69.7,47.1],[69.95,54.1],[70.2,48.8],[70.5,54.4],[70.75,47.0],[71.0,52.8],[71.3,50.3],[71.55,57.6],[71.8,53.1],[72.1,57.4],[72.35,50.7],[72.6,56.9],[72.9,52.0],[73.15,59.5],[73.4,54.4],[73.7,57.2],[73.95,53.3],
  [74.2,60.5],[74.5,55.8],[74.75,59.7],[75.0,52.4],[75.3,57.3],[75.55,54.6],[75.8,61.4],[76.1,56.8],[76.35,60.4],[76.6,55.3],[76.9,62.4],[77.15,58.7],[77.4,67.2],[77.7,62.5],[77.95,65.7],[78.2,61.7],[78.5,70.2],[78.75,67.0],[79.0,71.7],[79.3,65.7],[79.55,70.6],[79.8,68.4],[80.1,74.8],[80.35,70.0],[80.6,74.3],[80.9,66.2],[81.15,73.7],[81.4,67.2],[81.7,75.8],[81.95,68.8],[82.2,71.7],[82.5,65.5],[82.75,75.5],[83.0,69.8],[83.3,75.9]];

// (e) local GPs
const eUpper = [[0,85.5],[5.7,85.5],[7.7,86.1],[9.7,86.5],[11.4,85.0],[12.4,81.0],[13.4,74.7],[14.4,67.7],[15.4,60.6],[16.6,54.4],[17.7,54.0],[18.5,54.7],[19.1,58.3],[20.2,63.8],[20.8,66.1],[21.4,72.4],[21.9,69.0],[22.5,73.7],[23.5,69.0],[24.5,64.5],[25.2,59.8],[26.0,52.0],[27.2,42.6],[28.6,42.6],[29.9,41.4],[31.3,39.5],[32.6,34.7],[34.0,28.5],[34.6,28.2],[35.6,31.6],[36.7,34.0],[37.7,40.2],[38.7,48.9],[39.4,59.8],[40.4,63.0],[41.4,69.3],[41.9,70.0],[42.7,66.1],[44.1,59.8],[45.4,53.6],[46.1,44.2],[46.8,39.5],[47.4,37.9],[48.5,40.2],[49.5,53.6],[49.9,66.1],[50.5,61.4],[51.5,55.1],[52.8,48.9],[53.8,45.7],[54.9,47.3],[56.2,52.0],[57.5,58.3],[58.9,63.0],[59.9,69.3],[60.9,78.7],[61.9,86.5],[62.9,94.4],[64.2,96.7],[65.3,94.4],[66.3,86.5],[67.3,78.7],[68.3,68.5],[69.3,59.8],[70.0,56.7],[71.4,59.8],[73.0,62.2],[74.4,63.0],[75.7,63.8],[77.1,66.1],[78.4,74.7],[79.8,77.1],[81.1,77.9],[82.5,77.9],[83.8,80.2],[85.2,84.9],[86.5,88.1],[88.2,89.3],[89.9,88.1],[91.9,86.1],[94.6,85.5],[100,85.5]];
const eMean = [[0,54.0],[5.7,54.0],[7.7,55.1],[11.4,56.5],[13.4,53.6],[15.1,50.4],[16.6,46.9],[17.5,44.2],[18.8,47.3],[19.8,52.0],[20.5,56.7],[21.4,63.0],[22.5,64.0],[23.5,60.0],[24.5,55.0],[25.5,48.0],[26.5,39.0],[27.5,35.5],[29.0,34.5],[30.5,32.5],[32.0,28.5],[33.2,24.5],[34.2,22.0],[35.2,25.0],[36.2,28.5],[37.2,35.0],[38.2,42.0],[39.2,50.0],[40.2,55.5],[41.6,58.5],[42.8,55.5],[44.0,48.5],[45.0,41.0],[46.0,33.0],[47.0,28.5],[48.0,27.0],[49.0,26.9],[49.9,28.0],[49.9,44.2],[51.0,40.5],[52.5,37.0],[53.8,35.0],[55.0,38.5],[56.2,44.0],[57.5,50.0],[58.8,56.5],[60.0,64.0],[61.0,72.0],[62.0,80.0],[63.0,86.5],[64.2,89.5],[65.3,87.0],[66.3,80.5],[67.3,72.0],[68.3,63.0],[69.3,55.0],[70.2,50.0],[71.5,52.5],[73.0,54.5],[74.4,56.0],[75.8,56.5],[77.1,60.0],[78.4,66.0],[79.8,69.5],[81.0,70.0],[82.3,70.5],[83.3,71.6],[85.0,70.0],[87.0,65.3],[89.0,60.6],[91.0,56.7],[93.5,54.5],[100,54.0]];
const eLower = [[0,22.4],[5.7,22.4],[7.7,23.8],[9.7,26.9],[11.4,31.6],[13.1,36.3],[15.1,39.8],[16.8,38.7],[17.7,36.3],[18.5,40.2],[19.8,48.0],[20.8,55.0],[21.8,57.5],[22.8,55.0],[24.0,46.0],[25.5,36.0],[26.5,29.0],[27.2,26.5],[29.0,26.0],[30.5,24.0],[32.0,20.0],[33.5,15.5],[34.3,13.6],[35.5,17.5],[36.5,23.0],[37.5,30.0],[38.5,39.0],[39.5,47.5],[40.5,51.5],[41.6,54.5],[42.8,50.0],[44.0,42.0],[45.0,33.0],[46.0,24.5],[47.0,18.5],[48.0,14.0],[49.0,11.0],[49.9,8.9],[49.9,22.2],[51.0,25.5],[52.5,30.0],[53.8,32.0],[55.0,35.0],[56.5,40.0],[57.5,45.7],[58.8,53.6],[60.1,61.4],[61.4,70.8],[62.4,77.1],[63.4,80.2],[64.3,81.8],[65.3,78.7],[66.6,72.4],[67.9,63.0],[69.2,52.0],[70.2,41.8],[71.5,45.7],[73.2,47.3],[74.5,48.1],[75.8,51.2],[77.1,55.1],[78.4,59.8],[79.7,63.0],[81.3,62.2],[82.3,63.8],[83.2,64.2],[84.9,59.8],[86.5,41.0],[88.5,29.3],[90.6,23.8],[93.3,22.4],[100,22.4]];

// (f) PIC
const fUpper = [[0,85.5],[7.1,85.5],[9.0,86.1],[10.3,86.5],[11.6,85.3],[12.6,81.8],[13.6,74.7],[14.6,66.9],[15.6,59.8],[16.6,54.4],[17.2,54.0],[18.5,55.0],[19.5,60.0],[20.2,63.8],[21.1,68.5],[21.5,72.4],[22.0,69.5],[22.6,73.8],[23.4,67.5],[24.4,60.6],[25.4,52.8],[26.0,47.3],[26.7,42.6],[28.7,42.6],[30.6,40.2],[31.9,37.1],[33.2,33.2],[34.2,30.0],[35.2,33.2],[36.2,34.7],[37.2,41.0],[38.2,48.9],[39.1,58.3],[40.1,62.2],[41.1,66.1],[41.8,69.3],[42.6,66.0],[43.7,59.8],[44.7,53.6],[45.7,47.3],[46.7,40.2],[47.6,34.7],[48.6,32.4],[49.6,34.7],[50.9,39.5],[52.2,43.4],[53.6,45.7],[54.8,50.4],[56.2,55.1],[57.5,60.6],[58.8,66.9],[60.1,74.7],[61.4,83.4],[62.4,91.2],[63.4,94.4],[64.3,96.7],[65.3,94.4],[66.3,86.5],[67.3,78.7],[68.3,70.8],[69.2,61.4],[70.2,56.7],[71.2,59.8],[72.5,61.4],[73.8,63.0],[75.1,61.4],[76.4,63.8],[77.7,69.3],[78.7,74.7],[79.7,77.1],[80.7,77.9],[82.0,76.3],[83.0,78.7],[84.3,82.6],[86.3,87.3],[87.9,89.3],[89.5,88.1],[91.5,86.1],[94.1,85.5],[100,85.5]];
const fMean = [[0,54.0],[7.0,54.0],[8.4,54.4],[12.0,56.5],[14.3,52.8],[15.9,48.1],[17.5,43.8],[18.8,48.1],[20.2,58.3],[21.5,64.5],[22.4,66.1],[23.8,58.3],[25.1,51.2],[26.4,41.0],[27.7,34.7],[29.3,34.0],[31.0,30.0],[32.6,25.3],[34.2,21.4],[35.9,26.9],[37.2,36.3],[38.8,47.3],[40.4,56.7],[41.8,59.8],[43.1,55.1],[44.4,47.3],[45.7,37.9],[47.0,28.5],[49.0,22.2],[50.9,26.9],[52.6,33.2],[54.2,39.5],[55.5,44.9],[56.8,52.0],[58.1,58.3],[59.4,66.1],[60.7,75.5],[62.0,84.2],[63.4,88.1],[64.3,89.6],[65.3,86.5],[66.6,78.7],[67.9,67.7],[69.2,58.3],[70.2,49.6],[71.5,52.0],[73.2,53.6],[74.5,55.1],[75.8,56.7],[77.1,59.8],[78.4,66.1],[79.7,69.3],[81.0,70.0],[82.0,69.3],[83.3,71.6],[84.9,70.0],[86.9,65.3],[88.9,60.6],[90.8,56.7],[93.5,54.5],[100,54.0]];
const fLower = [[0,22.4],[7.0,22.4],[8.4,23.8],[10.3,27.7],[12.3,34.0],[14.3,38.7],[15.9,39.8],[16.9,37.9],[17.7,36.3],[18.8,40.2],[20.2,48.9],[21.1,55.1],[22.1,58.7],[23.4,52.0],[24.7,42.6],[26.0,34.7],[27.4,28.5],[28.7,26.5],[30.6,23.8],[32.6,19.1],[34.2,13.6],[35.9,18.3],[37.2,26.1],[38.5,35.5],[39.8,47.3],[41.1,53.6],[41.8,55.1],[43.1,48.9],[44.4,39.5],[45.7,27.7],[47.0,17.5],[48.3,12.8],[49.3,12.0],[50.3,14.4],[51.6,19.8],[52.9,26.9],[53.9,31.6],[54.8,35.5],[56.2,39.5],[57.5,45.7],[58.8,53.6],[60.1,61.4],[61.4,70.8],[62.4,77.1],[63.4,80.2],[64.3,81.8],[65.3,78.7],[66.6,72.4],[67.9,63.0],[69.2,52.0],[70.2,41.8],[71.5,45.7],[73.2,47.3],[74.5,48.1],[75.8,51.2],[77.1,55.1],[78.4,59.8],[79.7,63.0],[81.3,62.2],[82.3,63.8],[83.3,64.5],[84.9,59.8],[86.3,52.0],[87.6,42.6],[88.9,33.2],[90.2,26.9],[92.1,23.4],[94.8,22.6],[100,22.4]];
const fCrosses = [[46.6,4.5],[48.9,4.5],[51.2,4.5],[53.5,4.5]];

// (g) FI(T)C with four inducing inputs
const gUpper = [[0,85.6],[35.3,85.6],[38.0,86.3],[39.7,86.6],[41.0,85.5],[42.0,82.7],[43.1,76.4],[44.1,67.0],[45.1,56.0],[46.1,43.4],[47.1,32.4],[48.1,23.0],[49.1,17.9],[49.8,17.1],[50.8,19.0],[52.1,27.5],[53.5,39.5],[55.0,52.0],[56.5,63.5],[58.0,71.5],[59.5,78.5],[61.0,83.0],[62.5,85.0],[64.0,85.6],[100,85.6]];
const gMean = [[0,54.0],[35.3,54.0],[38.0,54.9],[40.7,56.6],[42.0,55.5],[43.1,52.5],[44.1,47.5],[45.1,41.0],[46.1,33.5],[47.1,27.0],[48.1,23.5],[49.3,22.8],[50.5,23.5],[51.8,27.0],[53.2,31.0],[54.6,37.0],[56.0,42.0],[57.5,47.0],[59.0,50.5],[60.5,52.5],[62.5,53.6],[65.0,54.0],[100,54.0]];
const gLower = [[0,22.4],[35.3,22.4],[38.0,23.0],[40.7,26.9],[42.7,33.2],[44.1,35.6],[45.4,33.2],[46.8,26.0],[48.1,16.0],[49.5,8.9],[50.8,14.0],[52.1,23.5],[53.5,30.9],[54.9,32.4],[56.2,30.0],[57.6,24.5],[58.9,21.8],[60.2,21.8],[62.5,22.3],[100,22.4]];
const gCrosses = [[46.8,4.4],[49.0,4.4],[51.3,4.4],[53.5,4.4]];

const subCaptions = ['(a) Long lengthscale \u2014 FI(T)C', '(b) Short lengthscale \u2014 FI(T)C', '(c) Short lengthscale \u2014 local GPs', '(d) Clumped training inputs', '(e) local GPs', '(f) PIC', '(g) FI(T)C'];
const captionLines = [
  'Figure 1: 1D comparison of global, local and com-',
  'bined sparse GP approximations. Mean predictions',
  'and two standard deviation error lines are plotted,',
  'as black dashed lines for FI(T)C, red solid lines for',
  'local GPs, and blue solid lines for PIC. For FI(T)C',
  'and PIC the x positions of the inducing inputs are',
  'marked by black crosses. In (c) and (d) the local',
  'training blocks are demarcated by alternating the',
  'colors of the data points. In (e) and (f) the blocks',
  'are not marked for clarity, because they are very',
  'small.'
];

// ---------- layout and drawing ----------
const SERIF = '"Liberation Serif", "Times New Roman", serif';
const MAGENTA = '#ff00ff';
const LIGHTBLUE = '#4fa6f2';
const RED = '#ff0000';
const BLUE = '#0000ff';
const CROSS = 'path://M0,0L1.2,0L5,3.8L8.8,0L10,0L10,1.2L6.2,5L10,8.8L10,10L8.8,10L5,6.2L1.2,10L0,10L0,8.8L3.8,5L0,1.2Z';

const panelBoxes = [
  { left: 6, top: 6 }, { left: 669, top: 6 },
  { left: 6, top: 473 }, { left: 669, top: 473 },
  { left: 6, top: 939 }, { left: 669, top: 939 },
  { left: 6, top: 1407 }
];
const PW = 607, PH = 424.5;

const grids = panelBoxes.map(b => ({ left: b.left, top: b.top, width: PW, height: PH }));
const xAxes = panelBoxes.map((b, i) => ({
  type: 'value', gridIndex: i, min: 0, max: 100,
  axisLine: { show: true, onZero: false, lineStyle: { color: '#666', width: 1.6 } },
  axisTick: { show: false }, axisLabel: { show: false }, splitLine: { show: false }
}));
const yAxes = panelBoxes.map((b, i) => ({
  type: 'value', gridIndex: i, min: 0, max: 100,
  axisLine: { show: true, onZero: false, lineStyle: { color: '#000', width: 1 } },
  axisTick: { show: false }, axisLabel: { show: false }, splitLine: { show: false }
}));

function curve(i, data, color, dashed, smooth) {
  return {
    type: 'line', xAxisIndex: i, yAxisIndex: i, data: data,
    showSymbol: false, symbol: 'none', smooth: smooth || false, z: 3, silent: true,
    lineStyle: { color: color, width: dashed ? 1.3 : 1, type: dashed ? [10, 6] : 'solid' }
  };
}
function dots(i, data, color, size) {
  return {
    type: 'scatter', xAxisIndex: i, yAxisIndex: i, data: data, symbol: 'circle',
    symbolSize: size, z: 2, silent: true, itemStyle: { color: color }
  };
}
function crosses(i, data) {
  return {
    type: 'scatter', xAxisIndex: i, yAxisIndex: i, data: data, symbol: CROSS,
    symbolSize: 13, z: 4, silent: true, itemStyle: { color: '#000' }
  };
}

// colour of a (c) point: alternate by local training block
function blockColor(p) {
  let k = 0;
  cBlockEdges.forEach(e => { if (p.value[0] > e) k++; });
  return k % 2 === 0 ? MAGENTA : LIGHTBLUE;
}

const efgPoints = efgPointsA.concat(efgPointsB, efgPointsC);

const series = [
  dots(0, aPoints, MAGENTA, 5.5),
  curve(0, aUpper, '#000', true, 0.3), curve(0, aMean, '#000', true, 0.3), curve(0, aLower, '#000', true, 0.3),
  crosses(0, aCrosses),

  dots(1, bcPoints, MAGENTA, 5.5),
  curve(1, bUpper, '#000', true, 0.25), curve(1, bMean, '#000', true, 0.25), curve(1, bLower, '#000', true, 0.25),
  crosses(1, bCrosses),

  { type: 'scatter', xAxisIndex: 2, yAxisIndex: 2, data: bcPoints, symbol: 'circle', symbolSize: 5.5, z: 2, silent: true,
    itemStyle: { color: blockColor } },
  curve(2, cUpper, RED, false), curve(2, cMean, RED, false), curve(2, cLower, RED, false),

  dots(3, dPointsMagenta, MAGENTA, 5), dots(3, dPointsBlue, LIGHTBLUE, 5),
  curve(3, dDashUpper, '#000', true, 0.3), curve(3, dDashMean, '#000', true, 0.3), curve(3, dDashLower, '#000', true, 0.3),
  curve(3, dRedUpper, RED, false), curve(3, dRedMean, RED, false), curve(3, dRedLower, RED, false),
  crosses(3, dCrosses),

  dots(4, efgPoints, MAGENTA, 3.6),
  curve(4, eUpper, RED, false), curve(4, eMean, RED, false), curve(4, eLower, RED, false),

  dots(5, efgPoints, MAGENTA, 3.6),
  curve(5, fUpper, BLUE, false), curve(5, fMean, BLUE, false), curve(5, fLower, BLUE, false),
  crosses(5, fCrosses),

  dots(6, efgPoints, MAGENTA, 3.6),
  curve(6, gUpper, '#000', true, 0.3), curve(6, gMean, '#000', true, 0.3), curve(6, gLower, '#000', true, 0.3),
  crosses(6, gCrosses)
];

// captions under the panels
const graphics = [];
const captionY = [454, 454, 921, 921, 1387, 1387, 1855];
subCaptions.forEach((t, i) => {
  graphics.push({
    type: 'text', x: panelBoxes[i].left + PW / 2, y: captionY[i], silent: true,
    style: { text: t, font: '26px ' + SERIF, fill: '#000', align: 'center', verticalAlign: 'middle' }
  });
});

// page number
graphics.push({
  type: 'text', x: 627, y: 1814, silent: true,
  style: { text: '524', font: 'bold 26px ' + SERIF, fill: '#000', align: 'right', verticalAlign: 'middle' }
});

// justified figure caption
const measure = document.createElement('canvas').getContext('2d');
const CAP_SIZE = 25.5, CAP_LEFT = 676, CAP_RIGHT = 1271, CAP_TOP = 1490, CAP_STEP = 31.7;
function capFont(word) { return (word === 'x' ? 'italic ' : '') + CAP_SIZE + 'px ' + SERIF; }
captionLines.forEach((line, li) => {
  const words = line.split(' ');
  const widths = words.map(w => { measure.font = capFont(w); return measure.measureText(w).width; });
  const total = widths.reduce((s, w) => s + w, 0);
  measure.font = capFont(' ');
  const last = li === captionLines.length - 1;
  const gap = last ? measure.measureText(' ').width : (CAP_RIGHT - CAP_LEFT - total) / (words.length - 1);
  let x = CAP_LEFT;
  words.forEach((w, j) => {
    graphics.push({
      type: 'text', x: x, y: CAP_TOP + li * CAP_STEP, silent: true,
      style: { text: w, font: capFont(w), fill: '#000', align: 'left', verticalAlign: 'middle' }
    });
    x += widths[j] + gap;
  });
});

const chart = echarts.init(document.getElementById('chart'), null, { renderer: 'canvas' });
chart.setOption({
  animation: false,
  backgroundColor: '#fff',
  grid: grids,
  xAxis: xAxes,
  yAxis: yAxes,
  series: series,
  graphic: { elements: graphics }
});
</script>
</body>
</html>
